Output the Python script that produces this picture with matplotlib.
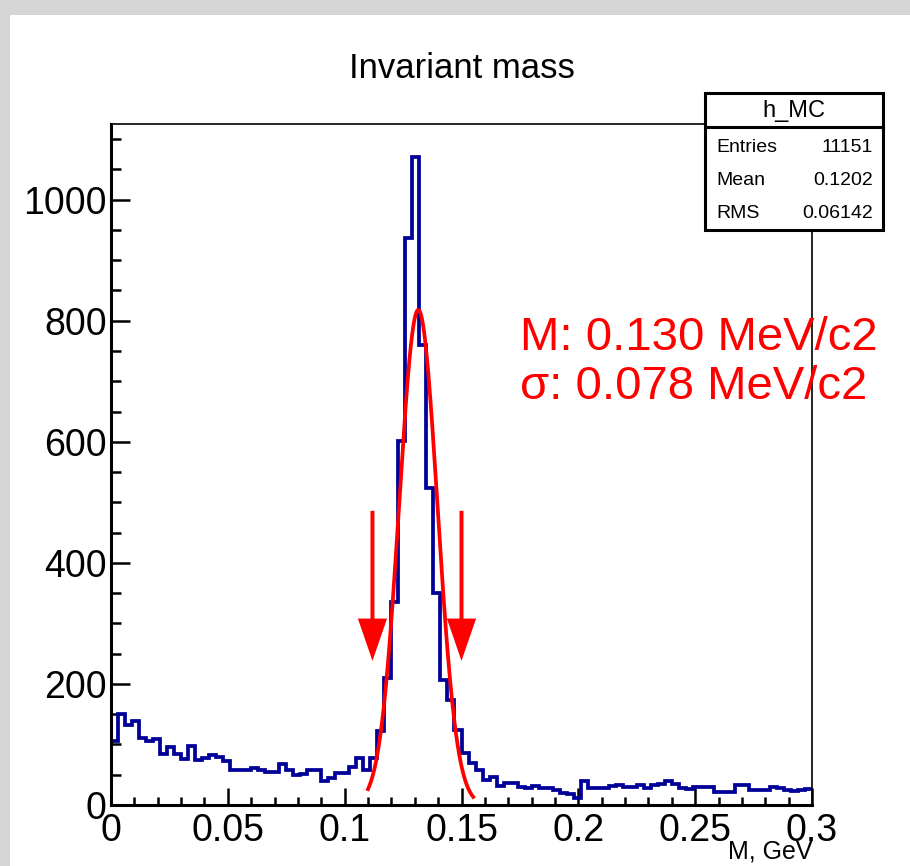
import matplotlib.pyplot as plt
import numpy as np
from matplotlib.patches import Rectangle

plt.rcParams['font.family'] = ['Liberation Sans', 'DejaVu Sans']

# histogram h_MC: 100 bins on [0, 0.3] GeV
x_min = 0.0
x_max = 0.3
counts = [
    105, 150, 132, 138, 111, 106, 109, 84, 96, 84,
    76, 97, 75, 78, 83, 80, 72, 58, 58, 58,
    61, 58, 55, 55, 68, 58, 50, 52, 57, 57,
    40, 44, 53, 53, 63, 78, 58, 78, 122, 209,
    336, 602, 937, 1070, 760, 523, 351, 207, 173, 124,
    86, 70, 58, 42, 46, 32, 37, 37, 30, 28,
    32, 28, 28, 24, 20, 18, 12, 40, 28, 28,
    28, 31, 33, 30, 30, 33, 28, 33, 35, 40,
    34, 28, 26, 30, 30, 30, 22, 22, 22, 33,
    33, 24, 24, 24, 30, 28, 25, 23, 25, 27,
]

# gaussian fit
fit_amp = 818
fit_mean = 0.1315
fit_sigma = 0.0082
fit_lo = 0.110
fit_hi = 0.155

# window arrows
arrow_x = [0.1119, 0.1500]
arrow_top = 486
arrow_tip = 238

stats_names = ["Entries", "Mean", "RMS"]
stats_values = ["11151", "0.1202", "0.06142"]

W, H = 910, 866
fig = plt.figure(figsize=(W / 100, H / 100), dpi=100, facecolor="white")

# slide background border
fig.patches.append(Rectangle((0, 1 - 15 / H), 1, 15 / H, transform=fig.transFigure,
                             facecolor="#d5d5d5", edgecolor="none", zorder=-5))
fig.patches.append(Rectangle((0, 0), 10 / W, 1, transform=fig.transFigure,
                             facecolor="#d5d5d5", edgecolor="none", zorder=-5))

ax = fig.add_axes([111 / W, 1 - 805 / H, (812 - 111) / W, (805 - 124) / H])

edges = np.linspace(x_min, x_max, len(counts) + 1)
ax.stairs(counts, edges, baseline=None, color="#000099", lw=2.7, zorder=2)

xf = np.linspace(fit_lo, fit_hi, 200)
yf = fit_amp * np.exp(-0.5 * ((xf - fit_mean) / fit_sigma) ** 2)
ax.plot(xf, yf, color="red", lw=2.7, zorder=3)

for xa in arrow_x:
    ax.arrow(xa, arrow_top, 0, arrow_tip - arrow_top, width=0.0017,
             head_width=0.0125, head_length=70, length_includes_head=True,
             color="red", lw=0, zorder=4)

ax.set_xlim(x_min, x_max)
ax.set_ylim(0, 1125)
ax.set_xticks([0, 0.05, 0.1, 0.15, 0.2, 0.25, 0.3])
ax.set_xticklabels(["0", "0.05", "0.1", "0.15", "0.2", "0.25", "0.3"])
ax.set_xticks(np.arange(0, 0.3001, 0.01), minor=True)
ax.set_yticks([0, 200, 400, 600, 800, 1000])
ax.set_yticks(np.arange(0, 1101, 50), minor=True)

ax.tick_params(axis="x", which="major", direction="in", length=12, width=1.8,
               labelsize=27, pad=6)
ax.tick_params(axis="x", which="minor", direction="in", length=5.5, width=1.8)
ax.tick_params(axis="y", which="major", direction="in", length=14, width=1.8,
               labelsize=27, pad=3)
ax.tick_params(axis="y", which="minor", direction="in", length=7, width=1.8)

ax.spines["left"].set_linewidth(2.2)
ax.spines["bottom"].set_linewidth(2.2)
ax.spines["top"].set_linewidth(1.2)
ax.spines["right"].set_linewidth(1.2)

ax.text(1.0, (805 - 852) / 681, "M, GeV", transform=ax.transAxes,
        ha="right", va="center", fontsize=18)

fig.text(462 / W, 1 - 68 / H, "Invariant mass", ha="center", va="center", fontsize=25)

fig.text(520 / W, 1 - 350 / H, "M: 0.130 MeV/c2", color="red", fontsize=34, va="baseline")
fig.text(520 / W, 1 - 399 / H, "σ: 0.078 MeV/c2", color="red", fontsize=34, va="baseline")

# stats box
bx0, bx1, by0, by1, bhead = 705, 883, 93, 230, 127
fig.patches.append(Rectangle((bx0 / W, 1 - by1 / H), (bx1 - bx0) / W, (by1 - by0) / H,
                             transform=fig.transFigure, facecolor="white",
                             edgecolor="black", lw=2.2, zorder=10))
fig.lines.append(plt.Line2D([bx0 / W, bx1 / W], [1 - bhead / H, 1 - bhead / H],
                            transform=fig.transFigure, color="black", lw=2.2, zorder=11))
fig.text((bx0 + bx1) / 2 / W, 1 - 111 / H, "h_MC", ha="center", va="center",
         fontsize=17, zorder=12)
for i, (name, val) in enumerate(zip(stats_names, stats_values)):
    yy = 1 - (147 + 33.5 * i) / H
    fig.text(716 / W, yy, name, ha="left", va="center", fontsize=14, zorder=12)
    fig.text(873 / W, yy, val, ha="right", va="center", fontsize=14, zorder=12)

fig.savefig("out.png", dpi=100, facecolor="white")
